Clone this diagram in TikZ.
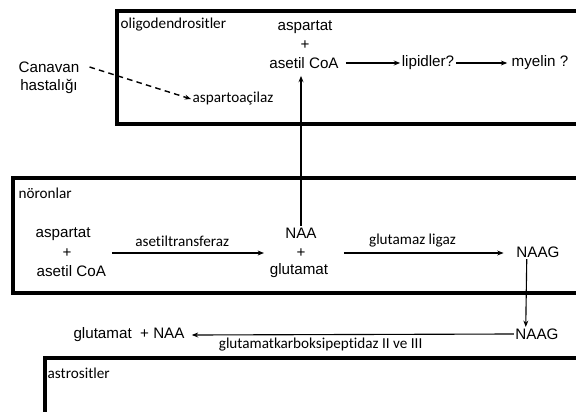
\documentclass[tikz,border=0pt]{standalone}
\usepackage{fontspec}
\setmainfont{Liberation Sans}
\newfontfamily\carlito[Ligatures=NoCommon]{Carlito}
\usetikzlibrary{arrows.meta, positioning}

\begin{document}
\begin{tikzpicture}[x=0.025cm, y=-0.025cm, >={Stealth[length=4.5pt, width=3.5pt]},
  every node/.style={font=\fontsize{10.8}{13}\selectfont, inner sep=1pt},
  cellbox/.style={draw, line width=2.8pt},
  celllbl/.style={anchor=west, font=\fontsize{10.8}{13}\selectfont\carlito},
  enz/.style={font=\fontsize{10.8}{13}\selectfont\carlito},
  flow/.style={->, line width=0.8pt}]
  \clip (0,0) rectangle (576,412);

  % Oligodendrocytes
  \draw[cellbox] (117,11) rectangle (600,124);
  \node[celllbl] (oligo) at (119,25) {oligodendrositler};
  \node (asp1) at (305,27) {aspartat};
  \node (plus1) at (305,45) {+};
  \node (coa1) at (304,63) {asetil CoA};
  \node (lip) at (428,63) {lipidler?};
  \node (mye) at (540,63) {myelin ?};
  \node (can) at (49,67) {Canavan};
  \node (has) at (49,86) {hastalığı};
  \node[enz] (apc) at (233,99) {aspartoaçilaz};

  \draw[flow] ([xshift=4pt]coa1.east) -- (lip.west);
  \draw[flow] (lip.east) -- ([xshift=-2pt]mye.west);
  \draw[flow, line width=1pt, dash pattern=on 4pt off 3pt] ([xshift=6pt]can.east) -- (apc.west);

  % Neurons
  \draw[cellbox] (13,178) rectangle (600,293);
  \node[celllbl] (noron) at (17,193) {nöronlar};
  \node[anchor=west] (asp2) at (34,234) {aspartat};
  \node (plus2) at (67,253) {+};
  \node[anchor=west] (coa2) at (35,271) {asetil CoA};
  \node (naa) at (301,233) {NAA};
  \node (plus3) at (301,253) {+};
  \node (glu) at (299,271) {glutamat};
  \node (naag1) at (538,252) {NAAG};

  \draw[flow] ([xshift=3pt]coa2.east |- plus2) -- ([xshift=-3pt]glu.west |- plus2)
    node[midway, above=3pt, enz, xshift=-4pt] {asetiltransferaz};
  \draw[flow] ([xshift=10pt]glu.east |- plus3) -- ([xshift=-8pt]naag1.west |- plus3)
    node[midway, above=3pt, enz, xshift=-8pt] {glutamaz ligaz};
  \draw[flow] (naa.north) -- ([yshift=-4pt]naa.north |- coa1.south);

  % Extracellular
  \node (naag2) at (537,334) {NAAG};
  \node (glnaa) at (129,335) {glutamat \ + NAA};
  \draw[flow] ([xshift=-8pt]naag1.south) -- ([xshift=-8pt]naag2.north);
  \draw[flow] (naag2.west) -- ([xshift=4pt]glnaa.east)
    node[pos=0.6, below=1pt, enz] {glutamatkarboksipeptidaz II ve III};

  % Astrocytes
  \draw[cellbox] (45,358) rectangle (600,440);
  \node[celllbl] (astro) at (46,373) {astrositler};
\end{tikzpicture}
\end{document}
